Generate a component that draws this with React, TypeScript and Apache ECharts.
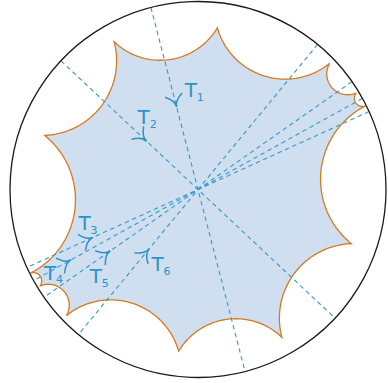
import React, { useEffect, useRef } from "react";
import * as echarts from "echarts";

// ---- data (unit-disk coordinates) ----
// cusp vertices of the fundamental polygon, in order around the boundary
const vertexU = [-0.446, 0.103, 0.7, 0.842, 0.891, 0.816, 0.446, -0.103, -0.7, -0.842, -0.891, -0.816];
const vertexV = [0.786, 0.86, 0.671, 0.514, 0.445, -0.288, -0.786, -0.86, -0.671, -0.514, -0.445, 0.288];

// diameters (axes of the translations T1..T6), angle in degrees
const axisAngles = [104.5, 136.8, 24.5, 29, 35, 50.5];
// arrow on each axis: side of the centre (+1 along the angle, -1 opposite) and distance from the centre
const arrowSide = [1, 1, -1, -1, -1, -1];
const arrowDist = [0.454, 0.376, 0.615, 0.773, 0.57, 0.41];

// labels T_i (centre of the "T")
const labelNames = ["1", "2", "3", "4", "5", "6"];
const labelU = [-0.0383, -0.2888, -0.6037, -0.7872, -0.5436, -0.2154];
const labelV = [0.5266, 0.383, -0.1798, -0.4415, -0.459, -0.3973];

// ---- layout / style ----
const W = 388;
const H = 383;
const CX = 198;
const CY = 189.5;
const R = 188;
const FILL = "#cfdff0";
const EDGE = "#d5791f";
const BLUE = "#3399cc";
const TEXT_BLUE = "#2a94c8";

function geodesic(p: number[], q: number[], n: number): number[][] {
  const pp = (1 + p[0] * p[0] + p[1] * p[1]) / 2;
  const qq = (1 + q[0] * q[0] + q[1] * q[1]) / 2;
  const det = p[0] * q[1] - p[1] * q[0];
  if (Math.abs(det) < 1e-9) return [p, q];
  const a = (pp * q[1] - p[1] * qq) / det;
  const b = (p[0] * qq - q[0] * pp) / det;
  const rho = Math.sqrt(Math.max(a * a + b * b - 1, 0));
  const t1 = Math.atan2(p[1] - b, p[0] - a);
  const t2 = Math.atan2(q[1] - b, q[0] - a);
  let d = t2 - t1;
  while (d > Math.PI) d -= 2 * Math.PI;
  while (d < -Math.PI) d += 2 * Math.PI;
  const out: number[][] = [];
  for (let i = 0; i <= n; i++) {
    const t = t1 + (d * i) / n;
    out.push([a + rho * Math.cos(t), b + rho * Math.sin(t)]);
  }
  return out;
}

export default function App() {
  const ref = useRef<HTMLDivElement>(null);
  useEffect(() => {
    if (!ref.current) return;
    const chart = echarts.init(ref.current, undefined, { renderer: "svg" });

    const nV = vertexU.length;
    const polygonSeries = {
      type: "custom",
      coordinateSystem: "cartesian2d",
      silent: true,
      z: 1,
      data: [[0, 0]],
      renderItem: (_params: any, api: any) => {
        const pts: number[][] = [];
        for (let i = 0; i < nV; i++) {
          const j = (i + 1) % nV;
          const arc = geodesic([vertexU[i], vertexV[i]], [vertexU[j], vertexV[j]], 60);
          arc.forEach((pt, k) => {
            if (k < arc.length - 1) pts.push(api.coord(pt));
          });
        }
        return {
          type: "polygon",
          shape: { points: pts },
          style: { fill: FILL, stroke: EDGE, lineWidth: 1.3, lineJoin: "miter" },
        };
      },
    };

    const lineSeries = axisAngles.map((ang, i) => {
      const t = (ang * Math.PI) / 180;
      return {
        type: "line",
        name: "T" + (i + 1),
        z: 2,
        symbol: "none",
        silent: true,
        data: [
          [Math.cos(t), Math.sin(t)],
          [-Math.cos(t), -Math.sin(t)],
        ],
        lineStyle: { color: BLUE, width: 1.1, type: [4.5, 3.5] },
      };
    });

    const circleSeries = {
      type: "custom",
      coordinateSystem: "cartesian2d",
      silent: true,
      z: 3,
      data: [[0, 0]],
      renderItem: (_params: any, api: any) => {
        const c = api.coord([0, 0]);
        const e = api.coord([1, 0]);
        return {
          type: "circle",
          shape: { cx: c[0], cy: c[1], r: e[0] - c[0] },
          style: { fill: "none", stroke: "#1a1a1a", lineWidth: 1.3 },
        };
      },
    };

    const arrowData = axisAngles.map((ang, i) => {
      const t = ((ang + (arrowSide[i] < 0 ? 180 : 0)) * Math.PI) / 180;
      return [arrowDist[i] * Math.cos(t), arrowDist[i] * Math.sin(t)];
    });
    const arrowSeries = {
      type: "custom",
      coordinateSystem: "cartesian2d",
      silent: true,
      z: 4,
      data: arrowData,
      renderItem: (params: any, api: any) => {
        const u = api.value(0);
        const v = api.value(1);
        const tip = api.coord([u, v]);
        const c = api.coord([0, 0]);
        let bx = tip[0] - c[0];
        let by = tip[1] - c[1];
        const len = Math.hypot(bx, by);
        bx /= len;
        by /= len;
        const armLen = 15;
        const ang = (36 * Math.PI) / 180;
        const children: any[] = [];
        [ang, -ang].forEach((a) => {
          const rx = bx * Math.cos(a) - by * Math.sin(a);
          const ry = bx * Math.sin(a) + by * Math.cos(a);
          children.push({
            type: "bezierCurve",
            shape: {
              x1: tip[0],
              y1: tip[1],
              x2: tip[0] + rx * armLen,
              y2: tip[1] + ry * armLen,
              cpx1: tip[0] + bx * 6.5,
              cpy1: tip[1] + by * 6.5,
            },
            style: { fill: "none", stroke: TEXT_BLUE, lineWidth: 1.5 },
          });
        });
        return { type: "group", children };
      },
    };

    const labelData = labelNames.map((n, i) => [labelU[i], labelV[i], n]);
    const labelSeries = {
      type: "custom",
      coordinateSystem: "cartesian2d",
      silent: true,
      z: 5,
      data: labelData,
      renderItem: (params: any, api: any) => {
        const p = api.coord([api.value(0), api.value(1)]);
        const d = labelNames[params.dataIndex];
        return {
          type: "group",
          children: [
            {
              type: "text",
              x: p[0],
              y: p[1],
              style: {
                text: "T",
                fill: TEXT_BLUE,
                font: "20px 'DejaVu Sans'",
                align: "center",
                verticalAlign: "middle",
                textAlign: "center",
                textVerticalAlign: "middle",
              },
            },
            {
              type: "text",
              x: p[0] + 9.5,
              y: p[1] + 7.3,
              style: {
                text: d,
                fill: TEXT_BLUE,
                font: "11px 'DejaVu Sans'",
                align: "center",
                verticalAlign: "middle",
                textAlign: "center",
                textVerticalAlign: "middle",
              },
            },
          ],
        };
      },
    };

    chart.setOption({
      animation: false,
      grid: { left: 0, top: 0, right: 0, bottom: 0, containLabel: false },
      xAxis: {
        type: "value",
        min: (0 - CX) / R,
        max: (W - CX) / R,
        show: false,
      },
      yAxis: {
        type: "value",
        min: (CY - H) / R,
        max: CY / R,
        show: false,
      },
      series: [polygonSeries, ...lineSeries, circleSeries, arrowSeries, labelSeries],
    });
    return () => chart.dispose();
  }, []);
  return (
    <div
      ref={ref}
      style={{ position: "fixed", left: 0, top: 0, width: W, height: H, background: "#fff" }}
    />
  );
}
